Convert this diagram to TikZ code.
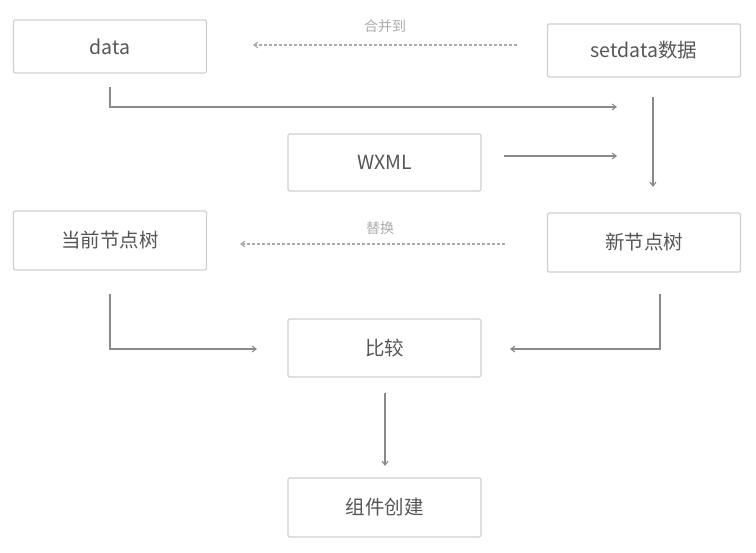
\documentclass[tikz,border=0pt]{standalone}
\usepackage{fontspec}
\setmainfont{Noto Sans CJK SC}
\usetikzlibrary{arrows.meta}
\definecolor{boxline}{HTML}{CFCFCF}
\definecolor{txt}{HTML}{555555}
\definecolor{arr}{HTML}{8A8A8A}
\definecolor{lbl}{HTML}{ABABAB}
\tikzset{
  box/.style={draw=boxline, line width=1.2pt, rounded corners=1.5pt, minimum width=193pt, minimum height=56pt, inner sep=0pt, text=txt, font=\fontsize{19.5}{22}\selectfont},
  conn/.style={draw=arr, line width=1.1pt, -{Straight Barb[length=4pt,width=6pt]}},
  dconn/.style={conn, dash pattern=on 3pt off 2pt, draw=lbl},
  lab/.style={text=lbl, font=\fontsize{14}{16}\selectfont, inner sep=0pt}
}
\begin{document}
\begin{tikzpicture}[x=1pt,y=-1pt]
\useasboundingbox (0,0) rectangle (756,553);
\node[box, minimum height=53pt] (data) at (110,46.5) {data};
\node[box, minimum height=53pt] (setdata) at (644,50.5) {setdata数据};
\node[box, minimum height=57pt] (wxml) at (384.5,162.5) {WXML};
\node[box, minimum height=59pt] (cur) at (110,240.5) {当前节点树};
\node[box, minimum height=59pt] (new) at (644,242.5) {新节点树};
\node[box, minimum height=58pt] (cmp) at (384.5,348) {比较};
\node[box, minimum height=59pt] (build) at (384.5,507.5) {组件创建};

\coordinate (d0) at (110,87);
\coordinate (d1) at (617,107);
\coordinate (w0) at (504,156);
\coordinate (w1) at (617,156);
\coordinate (s0) at (653,97);
\coordinate (s1) at (653,187);
\coordinate (m0) at (517,45);
\coordinate (m1) at (253,45);
\coordinate (r0) at (505,244);
\coordinate (r1) at (240,244);
\coordinate (c0) at (110,294);
\coordinate (c1) at (257,349);
\coordinate (n0) at (660,294);
\coordinate (n1) at (510,349);
\coordinate (b0) at (385,393);
\coordinate (b1) at (385,466);

\draw[dconn] (m0) -- (m1);
\node[lab] (mlab) at (385,26) {合并到};
\draw[dconn] (r0) -- (r1);
\node[lab] (rlab) at (380,228) {替换};

\draw[conn] (d0) |- (d1);
\draw[conn] (w0) -- (w1);
\draw[conn] (s0) -- (s1);
\draw[conn] (c0) |- (c1);
\draw[conn] (n0) |- (n1);
\draw[conn] (b0) -- (b1);
\end{tikzpicture}
\end{document}
